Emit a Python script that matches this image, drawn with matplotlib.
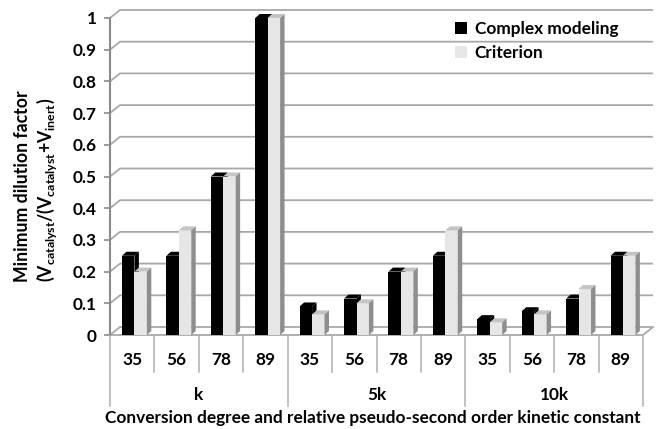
import matplotlib
matplotlib.use("Agg")
import matplotlib.pyplot as plt
from matplotlib.patches import Polygon, Patch
from matplotlib.transforms import blended_transform_factory
import numpy as np

plt.rcParams['font.family'] = ['Lato', 'DejaVu Sans']
plt.rcParams['font.weight'] = 'bold'
plt.rcParams['mathtext.fontset'] = 'custom'
plt.rcParams['mathtext.rm'] = 'Lato:bold'
plt.rcParams['mathtext.it'] = 'Lato:bold'
plt.rcParams['mathtext.bf'] = 'Lato:bold'

# ---- data ----
groups = ['k', '5k', '10k']
conversions = ['35', '56', '78', '89']
complex_modeling = [0.25, 0.25, 0.50, 1.00,
                    0.09, 0.115, 0.20, 0.25,
                    0.05, 0.075, 0.115, 0.25]
criterion = [0.20, 0.33, 0.50, 1.00,
             0.065, 0.10, 0.20, 0.33,
             0.04, 0.065, 0.145, 0.25]
series_names = ['Complex modeling', 'Criterion']
yticks = [0, 0.1, 0.2, 0.3, 0.4, 0.5, 0.6, 0.7, 0.8, 0.9, 1.0]
ytick_labels = ['0', '0.1', '0.2', '0.3', '0.4', '0.5', '0.6', '0.7', '0.8', '0.9', '1']

FS = 12.4
W, H = 660, 429
fig = plt.figure(figsize=(W / 100, H / 100), dpi=100)
ax = fig.add_axes([110 / W, (H - 335) / H, 533 / W, 317 / H])
ncat = len(groups) * len(conversions)
ax.set_xlim(0, ncat)
ax.set_ylim(0, 1)
for s in ax.spines.values():
    s.set_visible(False)
ax.patch.set_visible(False)

grid_c = '#a8a8a8'
# wall depth (data units)
wdx, wdy = 10 / 44.4, 8 / 317
# gridlines with 3D left wall diagonal
for v in yticks:
    ax.plot([0, wdx, ncat + wdx], [v, v + wdy, v + wdy], color=grid_c, lw=1.3,
            zorder=1, clip_on=False, solid_capstyle='butt')
# floor front edge and right edge
ax.plot([0, ncat, ncat + wdx], [0, 0, wdy], color=grid_c, lw=1.3, zorder=1, clip_on=False)
# y axis
ax.plot([0, 0], [0, 1], color='#8a8a8a', lw=1.5, zorder=1, clip_on=False)
ax.set_yticks(yticks)
ax.set_yticklabels(ytick_labels)
ax.tick_params(axis='y', length=4, width=1.2, color='#8a8a8a', pad=5.5, labelsize=FS)
ax.set_xticks([])

# bars
x = np.arange(ncat)
bw = 0.28
off = 0.27
ddx, ddy = 0.10, 4 / 317
specs = [(complex_modeling, off, '#000000', '#000000', '#000000'),
         (criterion, off + bw, '#e6e6e6', '#c4c4c4', '#8e8e8e')]
handles = []
for (vals, o, fc, tc, sc), name in zip(specs, series_names):
    bars = ax.bar(x + o, vals, width=bw, align='edge', color=fc, zorder=3,
                  linewidth=0, label=name)
    handles.append(Patch(facecolor=fc, edgecolor='none', label=name))
    for xi, v in zip(x, vals):
        x0 = xi + o
        top = Polygon([(x0, v), (x0 + ddx, v + ddy), (x0 + bw + ddx, v + ddy), (x0 + bw, v)],
                      closed=True, facecolor=tc, edgecolor='none', zorder=3, clip_on=False)
        side = Polygon([(x0 + bw, 0), (x0 + bw + ddx, ddy), (x0 + bw + ddx, v + ddy), (x0 + bw, v)],
                       closed=True, facecolor=sc, edgecolor='none', zorder=3, clip_on=False)
        ax.add_patch(top)
        ax.add_patch(side)

# category axis (two-level labels)
bt = blended_transform_factory(ax.transData, fig.transFigure)
def fy(py):
    return (H - py) / H
sep_c = '#b0b0b0'
for i in range(ncat + 1):
    long_ = (i % len(conversions) == 0)
    y_end = 406 if long_ else 372
    ax.plot([i, i], [fy(336), fy(y_end)], transform=bt, color=sep_c, lw=1.1, clip_on=False)
for i in range(ncat):
    ax.text(i + 0.5, fy(360), conversions[i % len(conversions)], transform=bt,
            ha='center', va='center', fontsize=FS, fontweight='bold')
for g, name in enumerate(groups):
    ax.text(g * len(conversions) + len(conversions) / 2, fy(395), name, transform=bt,
            ha='center', va='center', fontsize=FS, fontweight='bold')

fig.text(373 / W, fy(418), 'Conversion degree and relative pseudo-second order kinetic constant',
         ha='center', va='center', fontsize=FS, fontweight='bold')
fig.text(23 / W, fy(186), 'Minimum dilution factor', rotation=90,
         ha='center', va='center', fontsize=12.7, fontweight='bold')
fig.text(47 / W, fy(190),
         r'(V$_{\rm catalyst}$/(V$_{\rm catalyst}$+V$_{\rm inert}$)', rotation=90,
         ha='center', va='center', fontsize=12.7, fontweight='bold')

fig.legend(handles=handles, loc='upper left', bbox_to_anchor=(455 / W, fy(21)),
           frameon=False, handlelength=0.7, handleheight=0.7, handletextpad=0.45,
           labelspacing=0.45, prop={'weight': 'bold', 'size': FS}, borderaxespad=0,
           borderpad=0)

fig.savefig('out.png', dpi=100, facecolor='white')
